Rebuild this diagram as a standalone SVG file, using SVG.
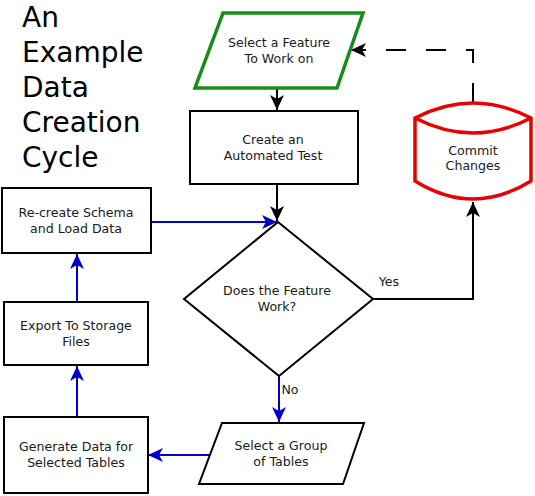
<svg xmlns="http://www.w3.org/2000/svg" width="535" height="496" viewBox="0 0 535 496">
<defs>
<style>
.t{font-family:"DejaVu Sans",sans-serif;font-size:12.6px;fill:#1a1a1a;text-anchor:middle}
.title{font-family:"DejaVu Sans",sans-serif;font-size:28px;fill:#000}
.box{fill:#fff;stroke:#000;stroke-width:2}
.k{fill:none;stroke:#000;stroke-width:2}
.b{fill:none;stroke:#0000cc;stroke-width:2}
</style>
<marker id="ak" markerUnits="userSpaceOnUse" markerWidth="16" markerHeight="14" viewBox="0 0 16 14" refX="15" refY="7" orient="auto">
<path d="M0,0 L15,7 L0,14 L4,7 z" fill="#000"/>
</marker>
<marker id="ab" markerUnits="userSpaceOnUse" markerWidth="16" markerHeight="14" viewBox="0 0 16 14" refX="15" refY="7" orient="auto">
<path d="M0,0 L15,7 L0,14 L4,7 z" fill="#0000cc"/>
</marker>
</defs>
<rect width="535" height="496" fill="#fff"/>
<g id="title">
<text class="title" x="22" y="27">An</text>
<text class="title" x="22" y="62">Example</text>
<text class="title" x="22" y="97">Data</text>
<text class="title" x="22" y="132">Creation</text>
<text class="title" x="22" y="167">Cycle</text>
</g>
<g id="connectors">
<path class="k" d="M277,89 V110" marker-end="url(#ak)"/>
<path class="k" d="M277,184 V221" marker-end="url(#ak)"/>
<path class="b" d="M151,222 H277" marker-end="url(#ab)"/>
<path class="k" d="M373,299 H473 V202" marker-end="url(#ak)"/>
<path class="k" d="M473,103 V50 H351" stroke-dasharray="20,20" marker-end="url(#ak)"/>
<path class="b" d="M279,376 V422" marker-end="url(#ab)"/>
<path class="b" d="M210,455 H148" marker-end="url(#ab)"/>
<path class="b" d="M77,417 V366" marker-end="url(#ab)"/>
<path class="b" d="M77,302 V254" marker-end="url(#ab)"/>
<text class="t" x="389" y="286">Yes</text>
<text class="t" x="290" y="394">No</text>
</g>
<g id="select-feature">
<polygon points="223,13 363,13 337,88 195,88" fill="#fff" stroke="#1a8a1a" stroke-width="3.5"/>
<text class="t" x="279" y="47">Select a Feature</text>
<text class="t" x="279" y="63">To Work on</text>
</g>
<g id="create-test">
<rect class="box" x="190" y="111" width="168" height="73"/>
<text class="t" x="273" y="144">Create an</text>
<text class="t" x="273" y="160">Automated Test</text>
</g>
<g id="commit">
<path d="M415,118 Q473,88 531,118 V181 Q473,217 415,181 Z" fill="#fff" stroke="#e60000" stroke-width="3.5"/>
<path d="M415,118 Q473,148 531,118" fill="none" stroke="#e60000" stroke-width="3.5"/>
<text class="t" x="473" y="155">Commit</text>
<text class="t" x="473" y="170">Changes</text>
</g>
<g id="recreate">
<rect class="box" x="2" y="188" width="149" height="65"/>
<text class="t" x="76" y="217">Re-create Schema</text>
<text class="t" x="76" y="233">and Load Data</text>
</g>
<g id="decision">
<polygon class="box" points="278,222 373,299 279,376 184,299"/>
<text class="t" x="277" y="295">Does the Feature</text>
<text class="t" x="277" y="311">Work?</text>
</g>
<g id="export">
<rect class="box" x="4" y="302" width="144" height="63"/>
<text class="t" x="76" y="330">Export To Storage</text>
<text class="t" x="76" y="346">Files</text>
</g>
<g id="select-group">
<polygon class="box" points="222,423 364,423 343,484 199,484"/>
<text class="t" x="281" y="450">Select a Group</text>
<text class="t" x="281" y="466">of Tables</text>
</g>
<g id="generate">
<rect class="box" x="4" y="417" width="144" height="76"/>
<text class="t" x="76" y="451">Generate Data for</text>
<text class="t" x="76" y="467">Selected Tables</text>
</g>
</svg>
